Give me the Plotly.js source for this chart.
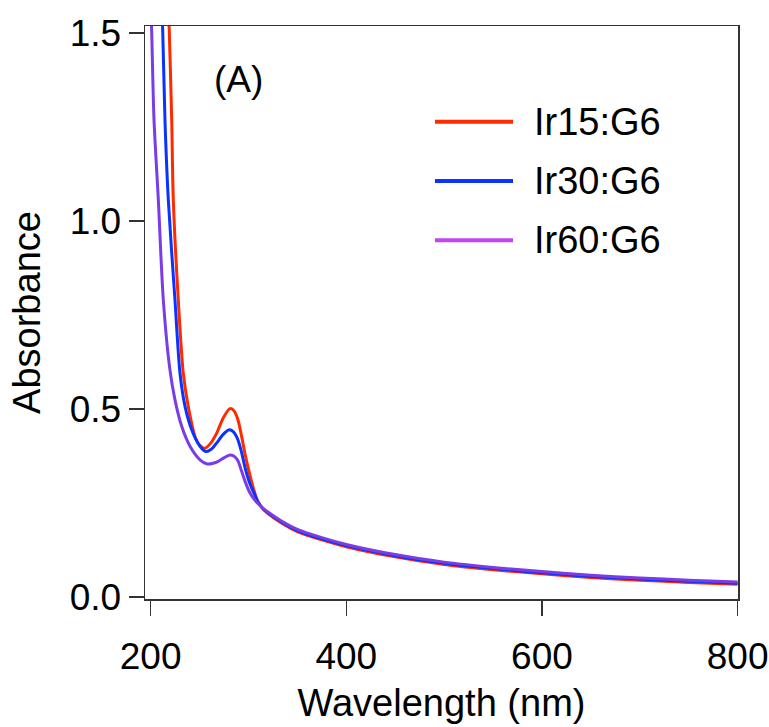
<!DOCTYPE html>
<html>
<head>
<meta charset="utf-8">
<script src="https://cdn.plot.ly/plotly-3.0.1.min.js"></script>
<style>html,body{margin:0;padding:0;background:#fff;}#chart{width:769px;height:727px;}</style>
</head>
<body>
<div id="chart"></div>
<script>
// Series names
const seriesNames = ["Ir15:G6", "Ir30:G6", "Ir60:G6"];

// Ir15:G6 (red)
const wlIr15 = [218, 219.1, 221.6, 223.2, 228.3, 233.4, 238.5, 245.4, 250.5, 255.6, 261, 267.6, 274, 281.1, 285, 289, 293, 297, 301, 305, 310, 315, 320, 335, 350, 375, 400, 450, 500, 550, 600, 650, 700, 750, 800];
const absIr15 = [1.6, 1.506, 1.269, 1.057, 0.791, 0.596, 0.507, 0.427, 0.403, 0.396, 0.408, 0.436, 0.475, 0.501, 0.496, 0.474, 0.428, 0.375, 0.330, 0.290, 0.252, 0.234, 0.222, 0.195, 0.174, 0.152, 0.134, 0.107, 0.087, 0.073, 0.062, 0.052, 0.045, 0.039, 0.034];

// Ir30:G6 (blue)
const wlIr30 = [210.5, 212.4, 214.7, 218.1, 224.9, 230.0, 235.2, 242.0, 250.5, 256.6, 262, 267.6, 274, 280.4, 284.5, 288.5, 292.5, 296.5, 301, 305, 310, 315, 320, 335, 350, 375, 400, 450, 500, 550, 600, 650, 700, 750, 800];
const absIr30 = [1.62, 1.506, 1.269, 1.057, 0.791, 0.597, 0.507, 0.445, 0.401, 0.387, 0.393, 0.410, 0.432, 0.445, 0.440, 0.423, 0.390, 0.345, 0.305, 0.280, 0.252, 0.235, 0.224, 0.198, 0.177, 0.155, 0.137, 0.110, 0.090, 0.076, 0.065, 0.055, 0.048, 0.042, 0.037];

// Ir60:G6 (purple)
const wlIr60 = [199.5, 201.1, 203.5, 207.9, 213.0, 219.8, 224.9, 231.8, 240.3, 250.5, 257.9, 264, 269.2, 275, 281, 285, 289, 293, 297, 301, 305, 310, 315, 320, 335, 350, 375, 400, 450, 500, 550, 600, 650, 700, 750, 800];
const absIr60 = [1.62, 1.506, 1.269, 1.057, 0.791, 0.604, 0.525, 0.454, 0.401, 0.365, 0.354, 0.356, 0.361, 0.370, 0.378, 0.375, 0.364, 0.335, 0.305, 0.280, 0.263, 0.248, 0.236, 0.226, 0.200, 0.180, 0.158, 0.140, 0.113, 0.093, 0.079, 0.068, 0.058, 0.051, 0.045, 0.040];

// Axis ticks
const xTicks = [200, 400, 600, 800];
const yTicks = [0, 0.5, 1.0, 1.5];

const lineColors = ["#ff2a00", "#0a33ff", "#7a3ce6"];
const legendColors = ["#ff2a00", "#0a33ff", "#c244f4"];
const FONT = "Liberation Sans, Arial, Helvetica, sans-serif";

const traces = [
  {x: wlIr15, y: absIr15, name: seriesNames[0]},
  {x: wlIr30, y: absIr30, name: seriesNames[1]},
  {x: wlIr60, y: absIr60, name: seriesNames[2]}
].map((t, i) => Object.assign(t, {
  type: "scatter", mode: "lines", showlegend: false,
  line: {color: lineColors[i], width: 3, shape: "spline", smoothing: 0.8}
}));

// Manual legend (paper coords)
const legendY = [0.833, 0.7295, 0.626];
const shapes = legendY.map((y, i) => ({
  type: "line", xref: "paper", yref: "paper",
  x0: 0.489, x1: 0.6206, y0: y, y1: y,
  line: {color: legendColors[i], width: 4}
}));
const annotations = legendY.map((y, i) => ({
  xref: "paper", yref: "paper", x: 0.652, y: y, xanchor: "left", yanchor: "middle",
  text: seriesNames[i], showarrow: false, font: {family: FONT, size: 38, color: "#000"}
}));
annotations.push({
  xref: "paper", yref: "paper", x: 0.157, y: 0.906, xanchor: "center", yanchor: "middle",
  text: "(A)", showarrow: false, font: {family: FONT, size: 37, color: "#000"}
});

const layout = {
  width: 769, height: 727,
  margin: {l: 145, r: 31, t: 26, b: 128},
  paper_bgcolor: "#fff", plot_bgcolor: "#fff",
  font: {family: FONT, size: 37, color: "#000"},
  xaxis: {
    range: [194.3, 800.4], tickvals: xTicks, ticktext: xTicks.map(String),
    ticks: "outside", ticklen: 15, tickwidth: 1.5, tickcolor: "#333",
    showline: true, linecolor: "#333", linewidth: 1.5, mirror: true,
    showgrid: false, zeroline: false, ticklabelstandoff: 9,
    tickfont: {family: FONT, size: 37, color: "#000"},
    title: {text: "Wavelength (nm)", font: {family: FONT, size: 38, color: "#000"}, standoff: 13}
  },
  yaxis: {
    range: [-0.005, 1.518], tickvals: yTicks, ticktext: yTicks.map(v => v.toFixed(1)),
    ticks: "outside", ticklen: 15, tickwidth: 1.5, tickcolor: "#333",
    showline: true, linecolor: "#333", linewidth: 1.5, mirror: true,
    showgrid: false, zeroline: false,
    tickfont: {family: FONT, size: 37, color: "#000"},
    title: {text: "Absorbance", font: {family: FONT, size: 38, color: "#000"}, standoff: 17}
  },
  shapes: shapes,
  annotations: annotations
};

Plotly.newPlot("chart", traces, layout, {staticPlot: true, displayModeBar: false});
</script>
</body>
</html>
